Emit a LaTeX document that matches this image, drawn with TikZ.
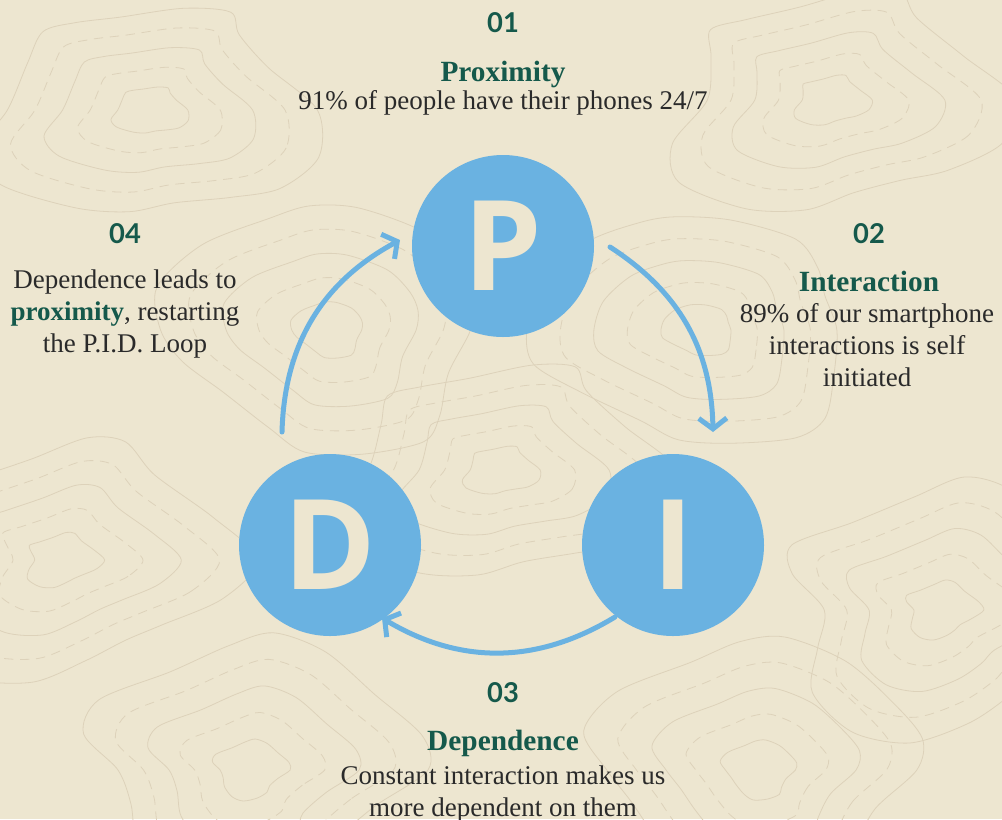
\documentclass[tikz,border=0pt]{standalone}
\usepackage{fontspec}
\setmainfont{Liberation Serif}
\newfontfamily\numfont{Lato}
\newfontfamily\letterfont{Open Sans}
\usepackage{tikz}
\usetikzlibrary{positioning, arrows.meta}

\definecolor{paper}{HTML}{EDE6D0}
\definecolor{topo}{HTML}{DDD2BA}
\definecolor{loopblue}{HTML}{6AB2E1}
\definecolor{pine}{HTML}{15594B}
\definecolor{ink}{HTML}{2A2A2A}

\begin{document}
\begin{tikzpicture}[x=0.75pt, y=-0.75pt,
    stage/.style={circle, fill=loopblue, inner sep=0pt, minimum size=136.5pt,
        text=paper, font=\letterfont\bfseries\fontsize{94}{94}\selectfont},
    numlabel/.style={anchor=base, text=pine, font=\numfont\bfseries\fontsize{20.5}{21}\selectfont},
    heading/.style={anchor=base, text=pine, font=\bfseries\fontsize{22}{24}\selectfont},
    body/.style={anchor=base, text=ink, align=center, font=\fontsize{20.25}{24}\selectfont},
    loop/.style={draw=loopblue, line width=3.75pt, line cap=round,
        -{Straight Barb[length=8pt, width=21pt]}},
    topoline/.style={draw=topo, line width=0.6pt}]

    % paper and frame
    \fill[paper] (0,0) rectangle (1002,819);
    \useasboundingbox (0,0) rectangle (1002,819);

    % contour lines in the background
    \begin{scope}
        \clip (0,0) rectangle (1002,819);
        \foreach \cx/\cy/\ph in {150/110/0, 830/100/40, 60/560/80, 940/610/120,
                                 250/770/160, 760/770/200, 330/330/240, 700/330/280, 500/470/20} {
            \foreach \r in {35, 95, 155} {
                \draw[topoline] plot[smooth cycle, domain=0:340, samples=18]
                    ({\cx+\r*(1+0.2*sin(3*\x+\ph)+0.08*cos(5*\x))*cos(\x)},
                     {\cy+0.75*\r*(1+0.16*cos(2*\x+\ph)+0.06*sin(4*\x))*sin(\x)});
            }
            \foreach \r in {65, 125} {
                \draw[topoline, dash pattern=on 7pt off 5pt] plot[smooth cycle, domain=0:340, samples=18]
                    ({\cx+\r*(1+0.2*sin(3*\x+\ph)+0.08*cos(5*\x))*cos(\x)},
                     {\cy+0.75*\r*(1+0.16*cos(2*\x+\ph)+0.06*sin(4*\x))*sin(\x)});
            }
        }
    \end{scope}

    % the three stages
    \node[stage] (P) at (503,246) {P};
    \node[stage] (I) at (673,545) {I};
    \node[stage] (D) at (330,545) {D};

    % ends of the arrows, just off the circles
    \path (P.center) ++(107,1) coordinate (p-out);
    \path (I.center) ++(40,-113) coordinate (i-in);
    \path (I.center) ++(-58,72) coordinate (i-out);
    \path (D.center) ++(52,73) coordinate (d-in);
    \path (D.center) ++(-48,-113) coordinate (d-out);
    \path (P.center) ++(-103,-6) coordinate (p-in);

    \draw[loop] (p-out) to[bend left=28] (i-in);
    \draw[loop] (i-out) to[bend left=31] (d-in);
    \draw[loop] (d-out) to[bend left=30] (p-in);

    % 01 proximity
    \node[numlabel] (n1) at (503,32) {01};
    \node[heading] (t1) at (503,81) {Proximity};
    \node[body] (b1) at (503,109) {91\% of people have their phones 24/7};

    % 02 interaction (base sits on the last line)
    \node[numlabel] (n2) at (869,243) {02};
    \node[heading] (t2) at (869,291) {Interaction};
    \node[body] (b2) at (867,386) {89\% of our smartphone\\interactions is self\\initiated};

    % 03 dependence
    \node[numlabel] (n3) at (503,702) {03};
    \node[heading] (t3) at (503,750) {Dependence};
    \node[body] (b3) at (503,816) {Constant interaction makes us\\more dependent on them};

    % 04 back to proximity
    \node[numlabel] (n4) at (125,243) {04};
    \node[body] (b4) at (125,352) {Dependence leads to\\{\bfseries\color{pine}proximity}, restarting\\the P.I.D. Loop};
\end{tikzpicture}
\end{document}
